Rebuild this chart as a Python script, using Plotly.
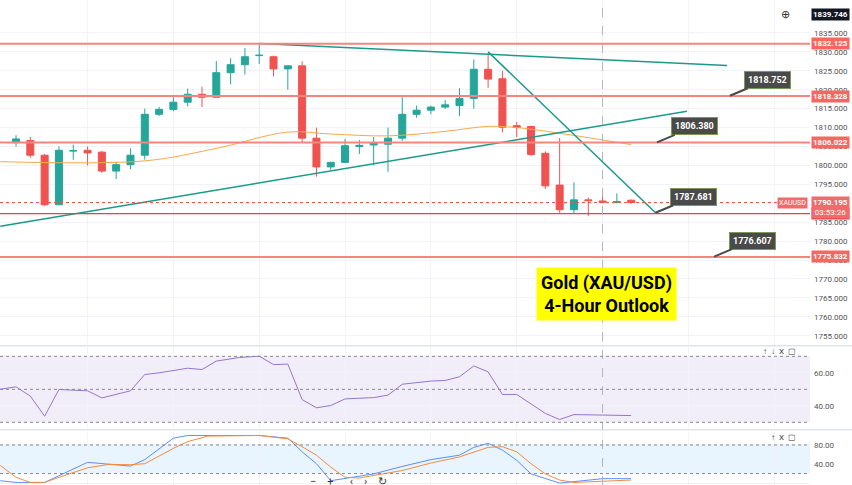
import plotly.graph_objects as go

# 4h candles, x = bar index
bar = list(range(44))
o = [1806, 1806.6, 1802.7, 1789.6, 1803.8, 1804, 1803.5, 1798.5, 1800.2, 1802.7, 1813.5, 1814.8,
     1816.7, 1818.8, 1818, 1824.5, 1826.6, 1829, 1828.7, 1825.5, 1826.3, 1807.2, 1799.6, 1800.8,
     1805, 1805.4, 1805.6, 1807.2, 1813.5, 1814.6, 1815.4, 1815.8, 1817.7, 1825.4, 1822.9, 1810.5,
     1810.3, 1803.2, 1794.8, 1788.3, 1790.9, 1790.6, 1790.2, 1790.8]
h = [1808, 1807.5, 1803, 1805, 1805.5, 1805, 1803.8, 1801, 1804.5, 1815, 1815.5, 1818.5,
     1820.3, 1820.8, 1827.6, 1828.3, 1831, 1832, 1829, 1826.5, 1827.5, 1810, 1801, 1807,
     1806.7, 1807.5, 1810, 1818, 1815.8, 1815.8, 1817.3, 1820.4, 1828, 1829.6, 1825, 1811.5,
     1810.5, 1803.7, 1807.2, 1795.5, 1791.5, 1793, 1792.6, 1791]
l = [1805, 1802, 1789.3, 1789.6, 1801.5, 1800, 1798, 1796.4, 1799, 1801.5, 1813, 1814.3,
     1815.6, 1815.4, 1818, 1821.4, 1824, 1826.8, 1823.5, 1820, 1806, 1797, 1798.8, 1800.8,
     1803, 1800, 1798.3, 1806.5, 1812.6, 1813.5, 1814.9, 1813, 1815, 1820.5, 1808.7, 1807.5,
     1802.5, 1793.8, 1787.5, 1787.3, 1786.6, 1790, 1790, 1789.9]
c = [1807, 1802.7, 1789.6, 1804, 1803.9, 1803.3, 1798.5, 1800.2, 1802.7, 1813.5, 1814.8, 1816.7,
     1818.8, 1818, 1824.5, 1826.6, 1828.7, 1829.1, 1825.5, 1826.3, 1807.2, 1799.6, 1800.8, 1805.2,
     1805.3, 1806, 1807.2, 1813.5, 1814.6, 1815.4, 1816, 1817.7, 1825.4, 1822.8, 1810.1, 1810,
     1802.9, 1794.6, 1788.3, 1790.9, 1790.7, 1790.3, 1790.4, 1790.2]

ma_x = [-1.1, 9, 14, 19, 22, 26, 30, 33, 35, 43]
ma_y = [1801, 1801.2, 1804.5, 1808.8, 1808.3, 1807.8, 1809, 1810.3, 1810, 1805.5]

rsi_x = [-1.1, 0, 1, 2, 3, 5, 6, 8, 9, 10, 12, 13, 14, 15.6, 17, 18, 19, 20, 21, 22, 23, 25, 26,
         27, 29, 30, 31, 32, 33, 34, 35, 36, 37, 38, 39, 43]
rsi_y = [50.1, 51.5, 45.9, 33.7, 49.9, 49.1, 44.8, 49.1, 59, 60, 62.8, 62, 67.1, 69.3, 70.1, 65,
         65.3, 43.8, 38.8, 40.2, 44.2, 45, 46.5, 53.1, 55, 55.4, 57.6, 64.2, 60.6, 46.9, 46.9, 41,
         35.4, 31.7, 34.7, 34.1]

k_x = [-1.1, 0, 2, 5, 8, 9, 11, 12, 17, 19, 20, 21, 22, 23, 25, 27, 29, 31, 32, 33, 34, 35, 36,
       38, 39, 41, 43]
k_y = [5, 1.4, 1.4, 43.6, 35.7, 49.3, 94.3, 100, 100, 94.3, 65.7, 40.7, 5, 10, 19.3, 35, 49.3,
       58.6, 75, 83.6, 69.3, 47.9, 19.3, 0, 3.6, 9.3, 9.3]
d_x = [-1.1, 0, 1, 2, 3, 5, 6.5, 8, 9, 11, 12, 13.4, 17, 19, 20, 21, 22, 23, 24, 25, 27, 29, 31,
       33, 34, 35, 36, 37, 38, 39, 43]
d_y = [37.1, 12.1, 1.4, 1.4, 12.1, 32.1, 39.3, 38.6, 40.7, 72.9, 87.1, 98.6, 100, 92.9, 76.4,
       58.6, 33.6, 12.1, 10.7, 15.7, 26.4, 42.1, 55, 75, 76.4, 65.7, 40.7, 19.3, 6.4, 1.4, 6.4]

levels = [1832.125, 1818.328, 1806.022, 1775.832]
support = 1787.263
last = 1790.195
main_ticks = list(range(1755, 1836, 5))

# drawn trend lines (bar index, price)
trend_x = [[17, 49.7], [-1.1, 46.9], [33, 44.7]]
trend_y = [[1832.2, 1826.4], [1783.9, 1814.3], [1830, 1787.5]]

# callouts: (bar, price) anchor, label
call_x = [49.9, 44.8, 44.7, 48.8]
call_y = [1818.4, 1806.1, 1787.5, 1775.9]
call_t = ["1818.752", "1806.380", "1787.681", "1776.607"]

UP, DN = "#26a69a", "#ef5350"
LVL = "#f7857f"

fig = go.Figure()
fig.add_trace(go.Candlestick(x=bar, open=o, high=h, low=l, close=c, yaxis="y",
                             increasing=dict(line=dict(color=UP, width=1), fillcolor=UP),
                             decreasing=dict(line=dict(color=DN, width=1), fillcolor=DN),
                             whiskerwidth=0, showlegend=False))
fig.add_trace(go.Scatter(x=ma_x, y=ma_y, mode="lines", line=dict(color="#f7a94a", width=1),
                         line_shape="spline", yaxis="y", showlegend=False))
for tx, ty in zip(trend_x, trend_y):
    fig.add_trace(go.Scatter(x=tx, y=ty, mode="lines", line=dict(color="#1b9a8a", width=1.5),
                             yaxis="y", showlegend=False))
fig.add_trace(go.Scatter(x=rsi_x, y=rsi_y, mode="lines", line=dict(color="#9575cd", width=1),
                         yaxis="y2", xaxis="x2", showlegend=False))
fig.add_trace(go.Scatter(x=k_x, y=k_y, mode="lines", line=dict(color="#5b8ff9", width=1),
                         yaxis="y3", xaxis="x3", showlegend=False))
fig.add_trace(go.Scatter(x=d_x, y=d_y, mode="lines", line=dict(color="#f68b3c", width=1),
                         yaxis="y3", xaxis="x3", showlegend=False))

xr = [-1.12, 55.5]
grid_vals = [5, 11, 17, 23, 29, 35, 41, 47, 53]
ax_common = dict(range=xr, showticklabels=False, tickvals=grid_vals, gridcolor="#f0f3fa",
                 zeroline=False, showline=False, fixedrange=True)
yax = dict(side="right", tickfont=dict(size=8, color="#555"), gridcolor="#f0f3fa",
           zeroline=False, ticks="", showline=False, ticklabelstandoff=3)
fig.update_layout(
    width=852, height=485, margin=dict(l=0, r=42, t=0, b=0, autoexpand=False),
    paper_bgcolor="white", plot_bgcolor="white",
    font=dict(family="Roboto, sans-serif"),
    xaxis=dict(domain=[0, 1], anchor="y", rangeslider=dict(visible=False), **ax_common),
    xaxis2=dict(domain=[0, 1], anchor="y2", matches="x", **ax_common),
    xaxis3=dict(domain=[0, 1], anchor="y3", matches="x", **ax_common),
    yaxis=dict(domain=[0.289, 1], range=[1752.6, 1843.7], tickvals=main_ticks,
               tickformat=".3f", **yax),
    yaxis2=dict(domain=[0.118, 0.285], range=[26.7, 75.8], tickvals=[40, 60],
                tickformat=".2f", **yax),
    yaxis3=dict(domain=[0, 0.109], range=[-4, 107], tickvals=[0, 40, 80],
                tickformat=".2f", **yax),
)

shapes = []
for lv in levels:
    shapes.append(dict(type="line", xref="x domain", yref="y", x0=0, x1=1, y0=lv, y1=lv,
                       line=dict(color=LVL, width=2)))
shapes.append(dict(type="line", xref="x domain", yref="y", x0=0, x1=1, y0=support, y1=support,
                   line=dict(color="#e8443a", width=1.2)))
shapes.append(dict(type="line", xref="x domain", yref="y", x0=0, x1=1, y0=last, y1=last,
                   line=dict(color=DN, width=1, dash="dot")))
shapes.append(dict(type="line", xref="x", yref="paper", x0=41, x1=41, y0=0, y1=1,
                   line=dict(color="#b2b5be", width=1, dash="dash")))
shapes.append(dict(type="rect", xref="x domain", yref="y2", x0=0, x1=1, y0=30, y1=70,
                   fillcolor="rgba(126,87,194,0.1)", line_width=0, layer="below"))
shapes.append(dict(type="rect", xref="x domain", yref="y3", x0=0, x1=1, y0=20, y1=80,
                   fillcolor="rgba(33,150,243,0.1)", line_width=0, layer="below"))
for yv in [30, 50, 70]:
    shapes.append(dict(type="line", xref="x domain", yref="y2", x0=0, x1=1, y0=yv, y1=yv,
                       line=dict(color="#888", width=1, dash="dot")))
for yv in [20, 80]:
    shapes.append(dict(type="line", xref="x domain", yref="y3", x0=0, x1=1, y0=yv, y1=yv,
                       line=dict(color="#888", width=1, dash="dot")))
for yp in [0.287, 0.114]:
    shapes.append(dict(type="line", xref="paper", yref="paper", x0=0, x1=1.06, y0=yp, y1=yp,
                       line=dict(color="#e0e3eb", width=1.5)))
fig.update_layout(shapes=shapes)

lbl = dict(x=1, xref="paper", yref="y", xanchor="left", showarrow=False, borderpad=1,
           xshift=1, font=dict(color="white", size=8))
ann = []
for lv in levels + [support]:
    ann.append(dict(lbl, y=lv, text=f"<b>{lv:.3f}</b>",
                    bgcolor="#f7675f" if lv != support else "#f23645"))
ann.append(dict(lbl, y=last, text=f"<b>{last:.3f}</b><br>03:53:26", bgcolor="#f26b6b",
                yshift=-5))
ann.append(dict(x=1, xref="paper", y=last, yref="y", xanchor="right", text="XAUUSD",
                showarrow=False, bgcolor="#f26b6b", font=dict(color="white", size=7),
                borderpad=1, xshift=-2))
ann.append(dict(lbl, y=1839.746, text="<b>1839.746</b>", bgcolor="#131722"))
ann.append(dict(x=0.978, xref="paper", y=1839.746, yref="y", text="⊕", showarrow=False,
                font=dict(size=11, color="#333")))
for cx, cy, ct in zip(call_x, call_y, call_t):
    ann.append(dict(x=cx, y=cy, xref="x", yref="y", text=f"<b>{ct}</b>", showarrow=True,
                    arrowhead=0, arrowcolor="#4a4a4a", arrowwidth=2, ax=38, ay=-16,
                    bgcolor="#4a4a4a", bordercolor="#7a9a5a", borderwidth=1, borderpad=3,
                    font=dict(color="white", size=9)))
ann.append(dict(x=41.3, y=1766, xref="x", yref="y",
                text="<b>Gold (XAU/USD)<br>4-Hour Outlook</b>", showarrow=False,
                bgcolor="#ffff00", borderpad=4, align="center",
                font=dict(color="black", size=18, family="Roboto, sans-serif")))
for yref, yv, labels in [("y2", 73, "↑  ↓  X  ▢"), ("y3", 96, "↑  X  ▢")]:
    ann.append(dict(x=0.985, xref="paper", y=yv, yref=yref, xanchor="right", text=labels,
                    showarrow=False, font=dict(size=8, color="#333")))
ann.append(dict(x=0.43, xref="paper", y=4, yref="y3", text="−    +      ‹    ›    ↻",
                showarrow=False, font=dict(size=11, color="#333")))
fig.update_layout(annotations=ann)

# page margin off so the chart sits at the window's top-left corner
fig.write_html("out.html", config={"displayModeBar": False},
               post_script="document.body.style.margin='0';")
